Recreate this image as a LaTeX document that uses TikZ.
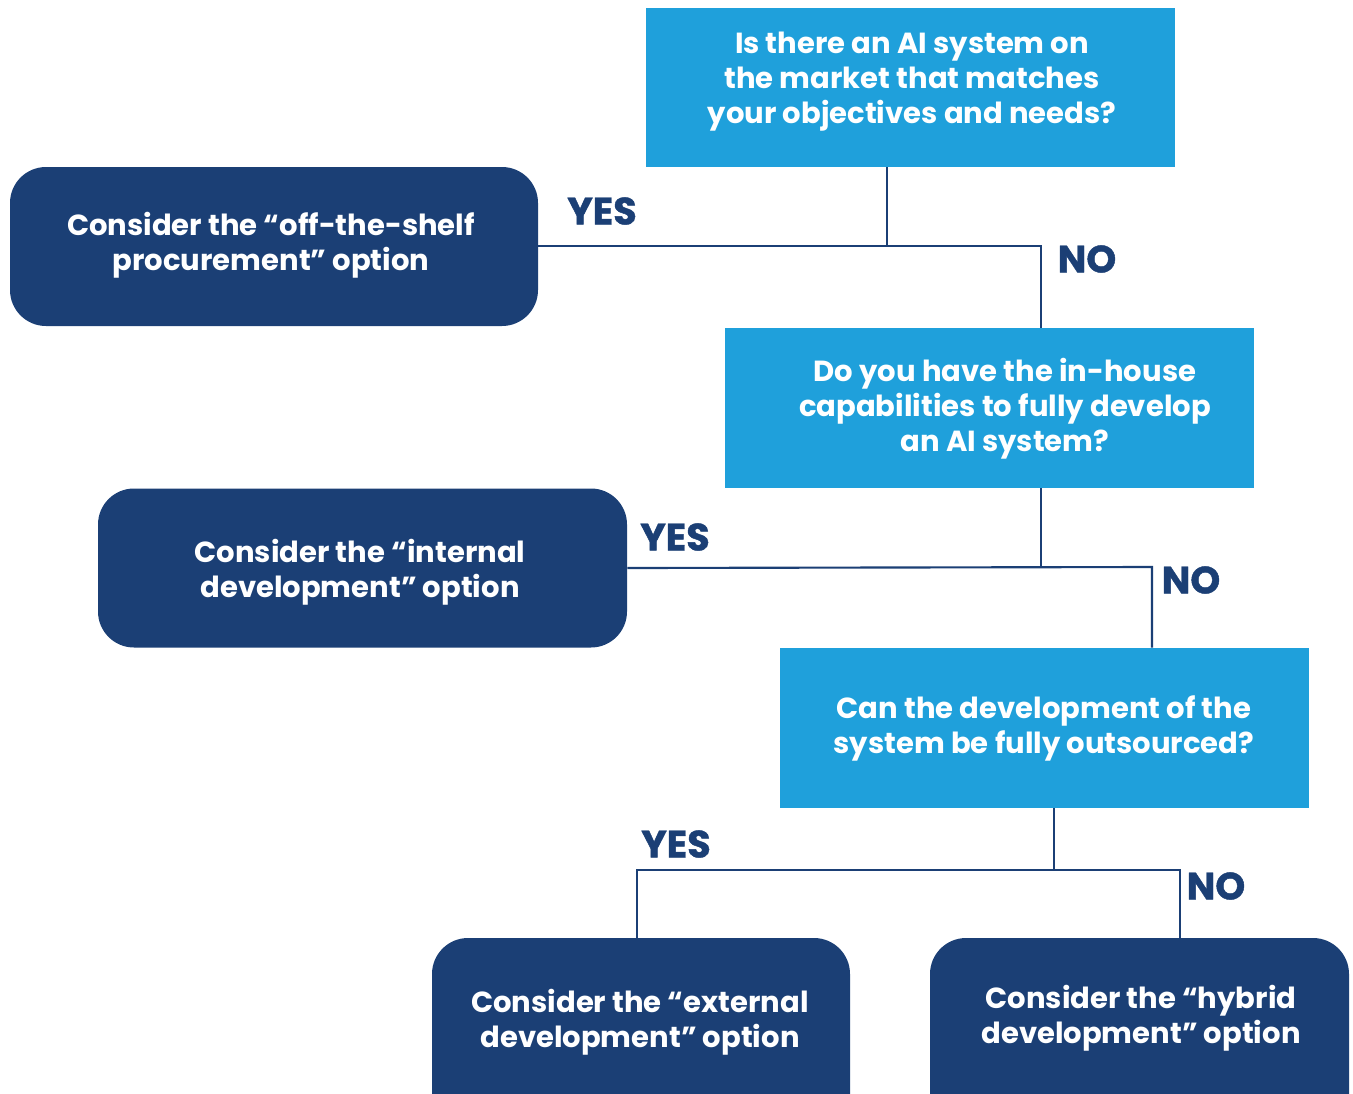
\documentclass[tikz,border=0pt]{standalone}
\usepackage{fontspec}
\setmainfont{Poppins}
\newfontfamily\heavyfont{Poppins}[BoldFeatures={FakeBold=1.2}]
\definecolor{qblue}{HTML}{1FA0DB}
\definecolor{navy}{HTML}{1B3F75}
\begin{document}
\begin{tikzpicture}[x=0.75pt,y=-0.75pt,
  qbox/.style={fill=qblue,draw=none,inner sep=0pt},
  abox/.style={fill=navy,draw=none,rounded corners=27pt,inner sep=0pt},
  btext/.style={text=white,font=\fontsize{21.8}{26.3}\selectfont\bfseries,align=center,inner sep=0pt},
  ans/.style={text=navy,font=\heavyfont\fontsize{28.5}{32}\selectfont\bfseries,inner sep=0pt},
  link/.style={draw=navy,line width=1.6pt}]
\clip (0,0) rectangle (1353,1093);
% question boxes
\node[qbox,minimum width=396.75pt,minimum height=119.25pt] (q1) at (910.5,87.5) {};
\node[btext] (q1t) at (912,82) {Is there an AI system on\\the market that matches\\your objectives and needs?};
\node[qbox,minimum width=396.75pt,minimum height=120pt] (q2) at (989.5,408) {};
\node[btext] (q2t) at (1005,409) {Do you have the in-house\\capabilities to fully develop\\an AI system?};
\node[qbox,minimum width=396.75pt,minimum height=120pt] (q3) at (1044.5,728) {};
\node[btext] (q3t) at (1044,728) {Can the development of the\\system be fully outsourced?};
% answer boxes
\node[abox,minimum width=396pt,minimum height=119.25pt] (a1) at (274,246.5) {};
\node[btext] (a1t) at (271,245.5) {Consider the “off-the-shelf\\procurement” option};
\node[abox,minimum width=396.75pt,minimum height=119.25pt] (a2) at (362.5,568) {};
\node[btext] (a2t) at (360,572) {Consider the “internal\\development” option};
\node[abox,minimum width=313.5pt,minimum height=150pt] (a3) at (641,1038) {};
\node[btext] (a3t) at (640,1022) {Consider the “external\\development” option};
\node[abox,minimum width=314.25pt,minimum height=150pt] (a4) at (1139.5,1038) {};
\node[btext] (a4t) at (1141,1018) {Consider the “hybrid\\development” option};
% junctions
\coordinate (j1) at (887,246);
\coordinate (k1) at (1041,246);
\coordinate (j2) at (1041,567);
\coordinate (k2) at (1152,567);
\coordinate (j3) at (1054,870);
\coordinate (l3) at (637,870);
\coordinate (k3) at (1180,870);
% connectors
\draw[link] (q1.south -| j1) -- (j1);
\draw[link] (a1.east |- j1) -- (k1) -- (q2.north -| k1);
\draw[link] (q2.south -| j2) -- (j2);
\draw[link] (a2.east) -- (k2) -- (q3.north -| k2);
\draw[link] (q3.south -| j3) -- (j3);
\draw[link] (a3.north -| l3) -- (l3) -- (k3) -- (a4.north -| k3);
% labels
\node[ans] (y1) at (602,211) {YES};
\node[ans] (n1) at (1087,259) {NO};
\node[ans] (y2) at (675,537) {YES};
\node[ans] (n2) at (1191,580) {NO};
\node[ans] (y3) at (676,844) {YES};
\node[ans] (n3) at (1216,886) {NO};
\end{tikzpicture}
\end{document}
